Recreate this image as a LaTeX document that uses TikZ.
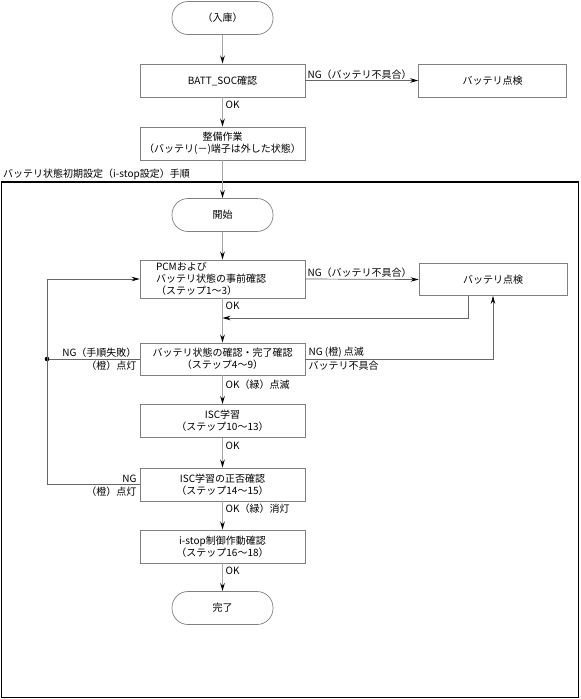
\documentclass[tikz,border=0pt]{standalone}
\usepackage{fontspec}
\setmainfont{Noto Sans CJK JP}
\usetikzlibrary{arrows.meta,calc}
\begin{document}
\begin{tikzpicture}[x=1pt,y=-1pt,
  every node/.style={font=\fontsize{10}{12}\selectfont, inner sep=0pt},
  box/.style={draw=black!50, line width=0.7pt, minimum width=165pt, minimum height=33pt, align=center},
  term/.style={draw=black!50, line width=0.7pt, rounded corners=16pt, minimum width=101pt, minimum height=33pt},
  mainarr/.style={draw=black!35, line width=1.6pt, -{Stealth[black,length=8pt,width=4.5pt]}},
  branch/.style={draw=black!60, line width=0.7pt},
  brarr/.style={branch, -{Stealth[black,length=8pt,width=4.5pt]}},
  lbl/.style={font=\fontsize{10}{12}\selectfont}
]
\useasboundingbox (0,0) rectangle (581,699);

% frame
\draw[line width=1.1pt] (1.5,182) rectangle (578.5,697.5);
\node[lbl, anchor=south west] (title) at (3,180) {バッテリ状態初期設定（i-stop設定）手順};

% nodes
\node[term] (nyuko) at (222.5,18) {（入庫）};
\node[box] (batt) at (222.5,80.5) {BATT\_SOC確認};
\node[box, minimum width=148pt] (chk1) at (492.5,80.5) {バッテリ点検};
\node[box] (seibi) at (222.5,143.5) {整備作業\\（バッテリ(－)端子は外した状態）};
\node[term] (start) at (222.5,215) {開始};
\node[box, minimum height=38pt, align=left, text width=133pt, inner xsep=16pt] (pcm) at (222.5,279) {PCMおよび\\バッテリ状態の事前確認\\（ステップ1～3）};
\node[box, minimum width=148pt, minimum height=32pt] (chk2) at (493,279.5) {バッテリ点検};
\node[box, minimum height=32pt] (b3) at (222.5,359) {バッテリ状態の確認・完了確認\\（ステップ4～9）};
\node[box] (isc) at (222.5,421) {ISC学習\\（ステップ10～13）};
\node[box] (iscchk) at (222.5,484.5) {ISC学習の正否確認\\（ステップ14～15）};
\node[box] (istop) at (222.5,546.5) {i-stop制御作動確認\\（ステップ16～18）};
\node[term] (fin) at (222.5,608) {完了};

% main flow
\draw[mainarr] (nyuko) -- (batt);
\draw[mainarr] (batt) -- (seibi);
\draw[mainarr] (seibi) -- (start);
\draw[mainarr] (start) -- (pcm);
\draw[mainarr] (pcm) -- (b3);
\draw[mainarr] (b3) -- (isc);
\draw[mainarr] (isc) -- (iscchk);
\draw[mainarr] (iscchk) -- (istop);
\draw[mainarr] (istop) -- (fin);

% OK labels
\node[lbl, anchor=west] (ok1) at ($(batt.south)+(3,7)$) {OK};
\node[lbl, anchor=west] (ok2) at ($(pcm.south)+(3,7)$) {OK};
\node[lbl, anchor=west] (ok3) at ($(b3.south)+(3,9)$) {OK（緑）点滅};
\node[lbl, anchor=west] (ok4) at ($(isc.south)+(3,8)$) {OK};
\node[lbl, anchor=west] (ok5) at ($(iscchk.south)+(3,7)$) {OK（緑）消灯};
\node[lbl, anchor=west] (ok6) at ($(istop.south)+(3,7)$) {OK};

% NG branches to battery check
\draw[brarr] (batt.east) -- (chk1.west);
\node[lbl, anchor=south west] (ng1) at ($(batt.east)+(2,-1)$) {NG（バッテリ不具合）};
\draw[brarr] (pcm.east) -- (chk2.west);
\node[lbl, anchor=south west] (ng2) at ($(pcm.east)+(2,-1)$) {NG（バッテリ不具合）};

% return from battery check
\coordinate (r1) at (468,318);
\draw[brarr] (r1 |- chk2.south) -- (r1) -- (r1 -| pcm.south);

% NG from b3 to battery check
\draw[brarr] (b3.east) -| (chk2.south);
\node[lbl, anchor=south west] (ng3) at ($(b3.east)+(3,-1.5)$) {NG (橙) 点滅};
\node[lbl, anchor=north west] (ng3b) at ($(b3.east)+(3,2)$) {バッテリ不具合};

% left loop
\coordinate (dot) at (47,359);
\draw[branch] (b3.west) -- (dot);
\fill (dot) circle (2.3pt);
\draw[brarr] (iscchk.west) -| (dot |- pcm.west) -- (pcm.west);
\node[lbl, anchor=south east] (ng4) at ($(b3.west)+(-3,-1.5)$) {NG（手順失敗）};
\node[lbl, anchor=north east] (ng4b) at ($(b3.west)+(-3,2)$) {（橙）点灯};
\node[lbl, anchor=south east] (ng5) at ($(iscchk.west)+(-3,-1.5)$) {NG};
\node[lbl, anchor=north east] (ng5b) at ($(iscchk.west)+(-3,2)$) {（橙）点灯};
\end{tikzpicture}
\end{document}
